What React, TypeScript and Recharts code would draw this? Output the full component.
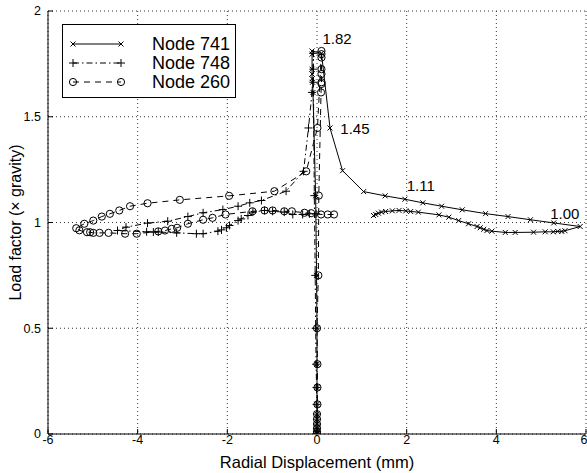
import React from "react";
import {
  LineChart,
  Line,
  XAxis,
  YAxis,
  CartesianGrid,
  ReferenceDot,
  Legend,
  Label,
} from "recharts";

// tick values
const xTicks = [-6, -4, -2, 0, 2, 4, 6];
const yTicks = [0, 0.5, 1, 1.5, 2];

// Node 741 : x markers, solid line  [displacement mm, load factor]
const node741: [number, number][] = [
  [0, 0], [0, 0.011], [0, 0.027], [0, 0.047], [0, 0.07], [0, 0.094], [0, 0.14],
  [0, 0.22], [0, 0.33], [0, 0.5], [-0.01, 0.75], [-0.03, 1.127], [-0.09, 1.615],
  [-0.1, 1.663], [-0.11, 1.68], [-0.11, 1.702], [-0.11, 1.725], [-0.11, 1.796],
  [-0.11, 1.811], [0.1, 1.8], [0.29, 1.447], [0.57, 1.245], [1.04, 1.146],
  [1.52, 1.126], [1.96, 1.11], [2.36, 1.093], [2.78, 1.077], [3.24, 1.06],
  [3.76, 1.042], [4.26, 1.028], [4.76, 1.013], [5.28, 0.998], [5.87, 0.981],
  [5.53, 0.961], [5.46, 0.958], [5.37, 0.958], [5.27, 0.956], [5.09, 0.956],
  [4.83, 0.954], [4.42, 0.953], [4.2, 0.953], [3.9, 0.959], [3.79, 0.962],
  [3.72, 0.968], [3.64, 0.975], [3.57, 0.981], [3.38, 0.994], [3.16, 1.009],
  [2.94, 1.025], [2.72, 1.036], [2.26, 1.049], [2.09, 1.052], [1.98, 1.055],
  [1.83, 1.057], [1.68, 1.055], [1.53, 1.052], [1.44, 1.049], [1.37, 1.044],
  [1.31, 1.038], [1.26, 1.033],
];

// Node 748 : + markers, dash-dot line
const node748: [number, number][] = [
  [0, 0], [0, 0.011], [0, 0.027], [0, 0.047], [0, 0.07], [0, 0.094], [-0.01, 0.14],
  [-0.01, 0.22], [-0.02, 0.33], [-0.03, 0.5], [-0.04, 0.75], [-0.06, 1.127],
  [-0.08, 1.663], [-0.08, 1.725], [-0.08, 1.8], [-0.11, 1.615], [-0.19, 1.447],
  [-0.3, 1.242], [-0.69, 1.148], [-1.24, 1.104], [-1.5, 1.093], [-1.76, 1.077],
  [-2.1, 1.061], [-2.54, 1.046], [-2.88, 1.028], [-3.33, 1.006], [-3.78, 0.997],
  [-4.26, 0.978], [-4.45, 0.962], [-3.8, 0.956], [-3.65, 0.955], [-3.54, 0.955],
  [-3.13, 0.951], [-2.69, 0.947], [-2.54, 0.947], [-2.21, 0.959], [-2.13, 0.965],
  [-2.02, 0.975], [-1.95, 0.986], [-1.76, 1.009], [-1.69, 1.017], [-1.54, 1.033],
  [-1.43, 1.049], [-1.17, 1.057], [-0.99, 1.053], [-0.73, 1.049], [-0.54, 1.038],
  [-0.32, 1.038], [-0.17, 1.041], [-0.02, 1.041],
];

// Node 260 : circle markers, dashed line
const node260: [number, number][] = [
  [0, 0], [0, 0.011], [0, 0.027], [0, 0.047], [0, 0.07], [0, 0.094], [0.01, 0.14],
  [0.01, 0.22], [0.01, 0.33], [0, 0.5], [0.03, 0.75], [0.04, 1.127], [0.09, 1.615],
  [0.1, 1.655], [0.1, 1.663], [0.1, 1.702], [0.1, 1.725], [0.1, 1.78], [0.1, 1.796],
  [0.1, 1.811], [0.01, 1.447], [-0.24, 1.242], [-0.95, 1.148], [-1.96, 1.126],
  [-3.06, 1.107], [-3.78, 1.091], [-4.17, 1.077], [-4.41, 1.057], [-4.62, 1.041],
  [-4.8, 1.028], [-4.99, 1.009], [-5.19, 0.994], [-5.37, 0.973], [-5.3, 0.963],
  [-5.13, 0.954], [-5.06, 0.954], [-4.99, 0.951], [-4.85, 0.951], [-4.65, 0.951],
  [-4.28, 0.947], [-4.02, 0.947], [-3.54, 0.958], [-3.39, 0.962], [-3.24, 0.97],
  [-3.12, 0.975], [-2.88, 0.994], [-2.54, 1.013], [-2.33, 1.022], [-2.04, 1.038],
  [-1.44, 1.053], [-1.17, 1.057], [-0.99, 1.057], [-0.73, 1.053], [-0.56, 1.053],
  [-0.28, 1.046], [-0.13, 1.044], [0.09, 1.038], [0.24, 1.038], [0.38, 1.038],
];

// peak / plateau annotations (text, x, y)
const noteText = ["1.82", "1.45", "1.11", "1.00"];
const noteX = [0.12, 0.52, 2.0, 5.2];
const noteY = [1.868, 1.443, 1.175, 1.044];

const FONT = '"Liberation Sans", Arial, Helvetica, sans-serif';

type Kind = "x" | "plus" | "circle";

const SERIES: { name: string; pts: [number, number][]; kind: Kind; dash?: string }[] = [
  { name: "Node 741", pts: node741, kind: "x" },
  { name: "Node 748", pts: node748, kind: "plus", dash: "6 3 1.5 3" },
  { name: "Node 260", pts: node260, kind: "circle", dash: "6 5" },
];

function Marker({ cx, cy, kind }: { cx?: number; cy?: number; kind: Kind }) {
  if (cx == null || cy == null) return null;
  if (kind === "x") {
    const s = 2.5;
    return (
      <path
        d={`M${cx - s},${cy - s}L${cx + s},${cy + s}M${cx - s},${cy + s}L${cx + s},${cy - s}`}
        stroke="#000"
        strokeWidth={1}
        fill="none"
      />
    );
  }
  if (kind === "plus") {
    const s = 4;
    return (
      <path
        d={`M${cx - s},${cy}L${cx + s},${cy}M${cx},${cy - s}L${cx},${cy + s}`}
        stroke="#000"
        strokeWidth={1}
        fill="none"
      />
    );
  }
  return <circle cx={cx} cy={cy} r={3.6} stroke="#000" strokeWidth={1} fill="none" />;
}

function LegendBox() {
  return (
    <div
      style={{
        width: 174,
        height: 74,
        border: "1px solid #000",
        background: "#fff",
        boxSizing: "border-box",
      }}
    >
      <svg width={172} height={72} style={{ display: "block" }}>
        {SERIES.map((s, i) => {
          const y = 19 + i * 19;
          return (
            <g key={s.name}>
              <line x1={10} x2={58} y1={y} y2={y} stroke="#000" strokeDasharray={s.dash} />
              <Marker cx={10} cy={y} kind={s.kind} />
              <Marker cx={58} cy={y} kind={s.kind} />
              <text x={89} y={y} dy="0.36em" fontSize={18} fontFamily={FONT} fill="#000">
                {s.name}
              </text>
            </g>
          );
        })}
      </svg>
    </div>
  );
}

export default function App() {
  const tickStyle = { fontSize: 12.5, fill: "#000", fontFamily: FONT };
  return (
    <div
      style={{
        position: "absolute",
        left: 0,
        top: 0,
        width: 587,
        height: 473,
        background: "#fff",
        fontFamily: FONT,
      }}
    >
      <LineChart width={587} height={473} margin={{ top: 11, right: 1, left: 0, bottom: 0 }}>
        <CartesianGrid stroke="#333" strokeDasharray="1 3" />
        <XAxis
          type="number"
          dataKey="x"
          domain={[-6, 6]}
          ticks={xTicks}
          allowDataOverflow
          height={39}
          tickSize={-5}
          tickMargin={6}
          stroke="#000"
          tick={tickStyle}
          tickFormatter={(v: number) => String(v)}
        >
          <Label
            value="Radial Displacement (mm)"
            position="insideBottom"
            offset={5}
            style={{ fontSize: 16.5, fill: "#000", fontFamily: FONT }}
          />
        </XAxis>
        <XAxis
          xAxisId="top"
          orientation="top"
          type="number"
          dataKey="x"
          domain={[-6, 6]}
          ticks={xTicks}
          allowDataOverflow
          height={0}
          tickSize={-5}
          tick={false}
          stroke="#000"
        />
        <YAxis
          type="number"
          domain={[0, 2]}
          ticks={yTicks}
          allowDataOverflow
          width={48}
          tickSize={-5}
          tickMargin={12}
          stroke="#000"
          tick={tickStyle}
        >
          <Label
            content={(props: any) => {
              const vb = props.viewBox || { x: 0, y: 11, width: 48, height: 423 };
              const cx = vb.x + 15;
              const cy = vb.y + vb.height / 2;
              return (
                <text
                  x={cx}
                  y={cy}
                  transform={`rotate(-90 ${cx} ${cy})`}
                  textAnchor="middle"
                  dominantBaseline="central"
                  fontSize={16}
                  fontFamily={FONT}
                  fill="#000"
                >
                  Load factor (× gravity)
                </text>
              );
            }}
          />
        </YAxis>
        <YAxis
          yAxisId="right"
          orientation="right"
          type="number"
          domain={[0, 2]}
          ticks={yTicks}
          allowDataOverflow
          width={0}
          tickSize={-5}
          tick={false}
          stroke="#000"
        />
        {SERIES.map((s) => (
          <Line
            key={s.name}
            name={s.name}
            data={s.pts.map(([x, y]) => ({ x, y }))}
            dataKey="y"
            type="linear"
            stroke="#000"
            strokeWidth={1}
            strokeDasharray={s.dash}
            isAnimationActive={false}
            dot={(p: any) => <Marker key={`${s.name}-${p.index}`} cx={p.cx} cy={p.cy} kind={s.kind} />}
            activeDot={false}
          />
        ))}
        {noteText.map((t, i) => (
          <ReferenceDot
            key={t}
            x={noteX[i]}
            y={noteY[i]}
            r={0}
            fill="none"
            stroke="none"
            label={{ value: t, position: "right", offset: 0, fontSize: 15, fill: "#000", fontFamily: FONT }}
          />
        ))}
        <Legend
          layout="horizontal"
          verticalAlign="middle"
          align="center"
          wrapperStyle={{ left: 62, top: 24, width: 174, height: 74 }}
          content={() => <LegendBox />}
        />
      </LineChart>
    </div>
  );
}
